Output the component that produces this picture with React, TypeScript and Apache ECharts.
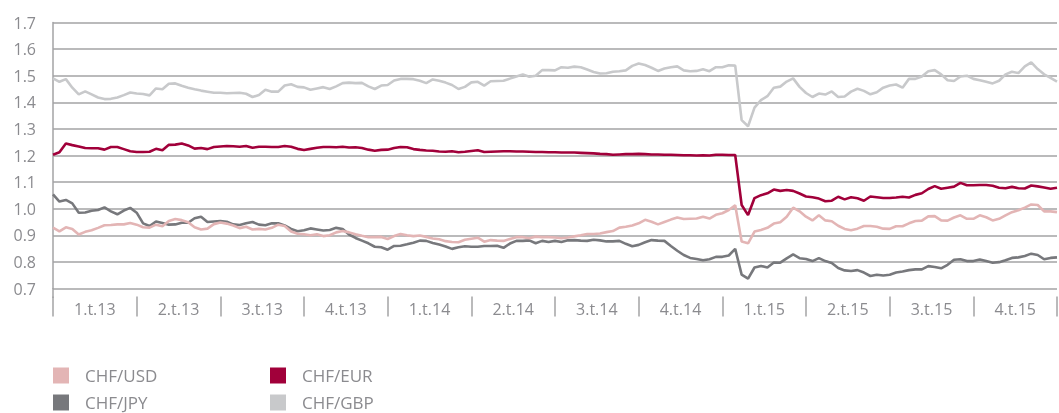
import React, { useEffect, useRef } from "react";
import * as echarts from "echarts";

const quarterLabels = [
  "1.t.13", "2.t.13", "3.t.13", "4.t.13",
  "1.t.14", "2.t.14", "3.t.14", "4.t.14",
  "1.t.15", "2.t.15", "3.t.15", "4.t.15",
];

const yTicks = [0.7, 0.8, 0.9, 1.0, 1.1, 1.2, 1.3, 1.4, 1.5, 1.6, 1.7];

// weekly observations, Jan 2013 - Dec 2015
const chfGbp = [
  1.49, 1.477, 1.487, 1.455, 1.43, 1.441, 1.43, 1.418, 1.412, 1.413,
  1.418, 1.427, 1.437, 1.433, 1.431, 1.426, 1.452, 1.449, 1.47, 1.471,
  1.462, 1.455, 1.449, 1.444, 1.44, 1.436, 1.436, 1.434, 1.435, 1.436,
  1.432, 1.42, 1.427, 1.447, 1.44, 1.44, 1.463, 1.468, 1.458, 1.456,
  1.447, 1.452, 1.457, 1.45, 1.46, 1.472, 1.474, 1.472, 1.473, 1.46,
  1.45, 1.463, 1.465, 1.482, 1.488, 1.488, 1.487, 1.481, 1.472, 1.486,
  1.481, 1.474, 1.465, 1.45, 1.458, 1.475, 1.477, 1.463, 1.479, 1.48,
  1.481, 1.489, 1.497, 1.505, 1.496, 1.5, 1.521, 1.521, 1.52, 1.532,
  1.53, 1.534, 1.532, 1.523, 1.514, 1.508, 1.509, 1.515, 1.517, 1.52,
  1.537, 1.546, 1.54, 1.53, 1.518, 1.527, 1.532, 1.535, 1.52, 1.517,
  1.518, 1.524, 1.517, 1.532, 1.532, 1.539, 1.538, 1.333, 1.31, 1.38,
  1.408, 1.423, 1.455, 1.459, 1.478, 1.49, 1.458, 1.435, 1.42, 1.433,
  1.429, 1.441, 1.42, 1.422, 1.44, 1.451, 1.443, 1.43, 1.438, 1.455,
  1.463, 1.467, 1.455, 1.488, 1.488, 1.497, 1.517, 1.521, 1.505, 1.483,
  1.48, 1.497, 1.5, 1.488, 1.483, 1.477, 1.471, 1.481, 1.505, 1.515,
  1.51, 1.535, 1.55, 1.525, 1.505, 1.492, 1.478,
];

const chfEur = [
  1.203, 1.212, 1.245, 1.239, 1.234, 1.228, 1.227, 1.227, 1.222, 1.232,
  1.232, 1.224, 1.216, 1.213, 1.213, 1.214, 1.225, 1.22, 1.24, 1.241,
  1.245, 1.238, 1.226, 1.228, 1.224, 1.232, 1.234, 1.236, 1.235, 1.233,
  1.236, 1.229, 1.233, 1.233, 1.232, 1.232, 1.236, 1.233, 1.225, 1.221,
  1.225, 1.229, 1.232, 1.232, 1.231, 1.233, 1.23, 1.231, 1.228, 1.222,
  1.218, 1.221, 1.222, 1.228, 1.232, 1.231, 1.224, 1.221, 1.219, 1.218,
  1.215, 1.214, 1.216, 1.212, 1.214, 1.217, 1.22, 1.213, 1.214, 1.215,
  1.216, 1.216, 1.215, 1.215, 1.214, 1.213, 1.213, 1.212, 1.212, 1.211,
  1.211, 1.211, 1.21, 1.209, 1.208, 1.206, 1.205, 1.203, 1.204, 1.205,
  1.205, 1.206, 1.205, 1.204, 1.204, 1.203, 1.203, 1.202, 1.201, 1.201,
  1.2, 1.201, 1.2, 1.203, 1.203, 1.202, 1.202, 1.014, 0.976, 1.04,
  1.051, 1.058, 1.072, 1.067, 1.07, 1.067, 1.057, 1.046, 1.043, 1.038,
  1.028, 1.03, 1.045, 1.035, 1.043, 1.039, 1.03, 1.046, 1.043, 1.04,
  1.04, 1.042, 1.045, 1.042, 1.052, 1.058, 1.074, 1.085, 1.075, 1.079,
  1.083, 1.097, 1.088, 1.088, 1.089, 1.089, 1.086, 1.079, 1.077, 1.082,
  1.077, 1.076, 1.087, 1.084, 1.08, 1.075, 1.079,
];

const chfUsd = [
  0.929, 0.915, 0.93, 0.924, 0.903, 0.913, 0.919, 0.928, 0.938, 0.939,
  0.941, 0.941, 0.946, 0.94, 0.93, 0.929, 0.94, 0.934, 0.954, 0.961,
  0.957, 0.949, 0.93, 0.922, 0.925, 0.942, 0.948, 0.944, 0.937, 0.927,
  0.932, 0.922, 0.924, 0.922, 0.928, 0.94, 0.935, 0.914, 0.906, 0.904,
  0.9, 0.904, 0.897, 0.9, 0.911, 0.916, 0.911, 0.904, 0.898, 0.893,
  0.893, 0.894, 0.886, 0.897, 0.905, 0.9, 0.897, 0.899, 0.894, 0.888,
  0.885, 0.878, 0.875, 0.874, 0.883, 0.887, 0.891, 0.876, 0.882, 0.88,
  0.879, 0.886, 0.893, 0.893, 0.889, 0.895, 0.893, 0.893, 0.892, 0.889,
  0.892, 0.896, 0.9, 0.905, 0.905, 0.907, 0.912, 0.916, 0.929, 0.932,
  0.937, 0.945, 0.958, 0.951, 0.941, 0.95, 0.959, 0.967, 0.961, 0.962,
  0.963, 0.97, 0.963, 0.977, 0.983, 0.995, 1.013, 0.877, 0.87, 0.914,
  0.92, 0.928, 0.944, 0.949, 0.97, 1.004, 0.99, 0.97, 0.956, 0.975,
  0.956, 0.953, 0.936, 0.924, 0.919, 0.925, 0.935, 0.935, 0.932, 0.925,
  0.924, 0.934, 0.934, 0.945, 0.954, 0.955, 0.971, 0.972, 0.956, 0.955,
  0.967, 0.975, 0.962, 0.962, 0.975, 0.968, 0.956, 0.962, 0.975, 0.987,
  0.994, 1.004, 1.016, 1.014, 0.99, 0.99, 0.987,
];

const chfJpy = [
  1.054, 1.027, 1.033, 1.02, 0.985, 0.986, 0.992, 0.995, 1.005, 0.99,
  0.979, 0.993, 1.003, 0.985, 0.945, 0.935, 0.952, 0.946, 0.94, 0.941,
  0.947, 0.947, 0.964, 0.97, 0.95, 0.952, 0.954, 0.951, 0.941, 0.939,
  0.945, 0.95, 0.94, 0.938, 0.945, 0.945, 0.937, 0.924, 0.915, 0.919,
  0.926, 0.922, 0.918, 0.92, 0.928, 0.924, 0.903, 0.89, 0.88, 0.87,
  0.857, 0.855, 0.846, 0.86, 0.861, 0.866, 0.872, 0.88, 0.879, 0.871,
  0.865, 0.858, 0.849, 0.855, 0.859, 0.857, 0.857, 0.86, 0.86, 0.861,
  0.853, 0.869, 0.879, 0.879, 0.881, 0.87, 0.879, 0.875, 0.879, 0.875,
  0.881, 0.882, 0.88, 0.879, 0.883, 0.881, 0.877, 0.877, 0.879, 0.868,
  0.859, 0.864, 0.874, 0.882, 0.88, 0.879, 0.86, 0.842, 0.826, 0.815,
  0.811, 0.806, 0.81, 0.819, 0.819, 0.824, 0.849, 0.752, 0.737, 0.779,
  0.785, 0.779, 0.798, 0.797, 0.813, 0.828, 0.814, 0.811, 0.803, 0.814,
  0.803, 0.796, 0.777, 0.768, 0.766, 0.769, 0.76, 0.747, 0.752, 0.749,
  0.752, 0.76, 0.764, 0.769, 0.772, 0.772, 0.784, 0.781, 0.776, 0.789,
  0.808, 0.81, 0.803, 0.803, 0.809, 0.803, 0.797, 0.799, 0.806, 0.815,
  0.817, 0.822, 0.831, 0.826, 0.81, 0.815, 0.817,
];

const seriesNames = ["CHF/USD", "CHF/EUR", "CHF/JPY", "CHF/GBP"];
const seriesColors = ["#e3b5b5", "#a1003a", "#77787c", "#c8c9cb"];

const FONT = "'Open Sans', Lato, sans-serif";
const TEXT_COLOR = "#8b8b8f";
const GRID_COLOR = "#a3a3a5";

export default function App() {
  const ref = useRef<HTMLDivElement>(null);

  useEffect(() => {
    if (!ref.current) return;
    const chart = echarts.init(ref.current, null, { renderer: "svg" });
    const toPairs = (arr: number[]) => arr.map((v, i) => [i, v]);
    const allData = [chfUsd, chfEur, chfJpy, chfGbp];
    const weeks = chfEur.length - 1;

    const mkSeries = (idx: number, z: number) => ({
      name: seriesNames[idx],
      type: "line",
      xAxisIndex: 0,
      data: toPairs(allData[idx]),
      showSymbol: false,
      symbol: "none",
      z,
      lineStyle: { color: seriesColors[idx], width: 2.6 },
      itemStyle: { color: seriesColors[idx] },
    });

    const legendCommon = {
      orient: "vertical",
      icon: "rect",
      itemWidth: 16,
      itemHeight: 16,
      itemGap: 10,
      top: 367,
      padding: 0,
      textStyle: {
        color: TEXT_COLOR,
        fontSize: 17,
        lineHeight: 16,
        fontFamily: FONT,
        padding: [0, 0, 0, 11],
      },
    };

    chart.setOption({
      animation: false,
      grid: { left: 53, right: 2, top: 22.5, bottom: 124.5, containLabel: false },
      xAxis: [
        {
          type: "value",
          min: 0,
          max: weeks,
          show: false,
        },
        {
          type: "category",
          data: quarterLabels,
          position: "bottom",
          offset: 8,
          boundaryGap: true,
          axisLine: { show: false },
          axisTick: {
            show: true,
            length: 20,
            lineStyle: { color: GRID_COLOR, width: 1.5 },
          },
          axisLabel: {
            color: TEXT_COLOR,
            fontSize: 16,
            fontFamily: FONT,
            margin: 4,
          },
          splitLine: { show: false },
        },
      ],
      yAxis: {
        type: "value",
        min: yTicks[0],
        max: yTicks[yTicks.length - 1],
        interval: 0.1,
        axisLine: { show: true, lineStyle: { color: GRID_COLOR, width: 1.5 } },
        axisTick: { show: false },
        axisLabel: {
          color: TEXT_COLOR,
          fontSize: 16,
          fontFamily: FONT,
          margin: 17,
          formatter: (v: number) => v.toFixed(1),
        },
        splitLine: { lineStyle: { color: GRID_COLOR, width: 1.5 } },
      },
      legend: [
        { ...legendCommon, left: 53, data: ["CHF/USD", "CHF/JPY"] },
        { ...legendCommon, left: 270, data: ["CHF/EUR", "CHF/GBP"] },
      ],
      graphic: [
        {
          type: "line",
          shape: { x1: 53, y1: 288, x2: 53, y2: 298 },
          style: { stroke: GRID_COLOR, lineWidth: 1.5 },
        },
      ],
      series: [mkSeries(3, 1), mkSeries(2, 2), mkSeries(0, 3), mkSeries(1, 4)],
    });

    return () => chart.dispose();
  }, []);

  return (
    <div
      ref={ref}
      style={{ position: "fixed", left: 0, top: 0, width: 1059, height: 413 }}
    />
  );
}
